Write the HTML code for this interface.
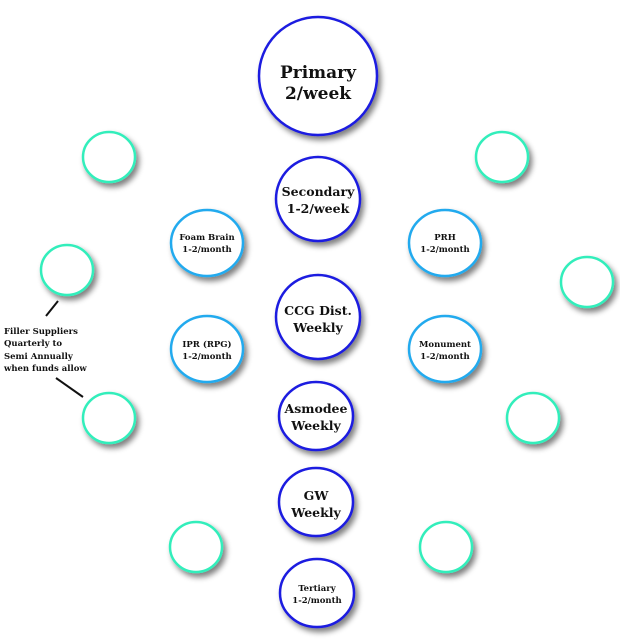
<!DOCTYPE html>
<html><head><meta charset="utf-8"><style>
html,body{margin:0;padding:0;background:#fff;}
svg{display:block;}
text{font-family:"DejaVu Serif","Liberation Serif",serif;font-weight:bold;fill:#111;text-anchor:middle;}
</style></head><body>
<svg width="620" height="640" viewBox="0 0 620 640" xmlns="http://www.w3.org/2000/svg">
<defs>
<filter id="sh" x="-30%" y="-30%" width="170%" height="170%">
<feGaussianBlur in="SourceAlpha" stdDeviation="3"/>
<feOffset dx="3" dy="4" result="b"/>
<feComponentTransfer><feFuncA type="linear" slope="0.5"/></feComponentTransfer>
<feMerge><feMergeNode/><feMergeNode in="SourceGraphic"/></feMerge>
</filter>
</defs>
<g filter="url(#sh)" fill="#fff">
<circle cx="318" cy="76" r="59" stroke="#1a1ae0" stroke-width="2.5"/>
<circle cx="318" cy="199" r="42" stroke="#1a1ae0" stroke-width="2.5"/>
<circle cx="318" cy="317" r="42" stroke="#1a1ae0" stroke-width="2.5"/>
<ellipse cx="316" cy="416" rx="37" ry="34" stroke="#1a1ae0" stroke-width="2.5"/>
<ellipse cx="316" cy="502" rx="37" ry="34" stroke="#1a1ae0" stroke-width="2.5"/>
<ellipse cx="317" cy="593" rx="37" ry="34" stroke="#1a1ae0" stroke-width="2.5"/>
<ellipse cx="207" cy="243" rx="36" ry="33" stroke="#22aaee" stroke-width="2.5"/>
<ellipse cx="445" cy="243" rx="36" ry="33" stroke="#22aaee" stroke-width="2.5"/>
<ellipse cx="207" cy="349" rx="36" ry="33" stroke="#22aaee" stroke-width="2.5"/>
<ellipse cx="445" cy="349" rx="36" ry="33" stroke="#22aaee" stroke-width="2.5"/>
<g stroke="#33eebb" stroke-width="2.5">
<ellipse cx="109" cy="157" rx="26" ry="25"/>
<ellipse cx="502" cy="157" rx="26" ry="25"/>
<ellipse cx="67" cy="270" rx="26" ry="25"/>
<ellipse cx="587" cy="282" rx="26" ry="25"/>
<ellipse cx="109" cy="418" rx="26" ry="25"/>
<ellipse cx="533" cy="418" rx="26" ry="25"/>
<ellipse cx="196" cy="547" rx="26" ry="25"/>
<ellipse cx="446" cy="547" rx="26" ry="25"/>
</g>
</g>
<g stroke="#111" stroke-width="2">
<line x1="58" y1="301" x2="46" y2="316"/>
<line x1="56" y1="378" x2="83" y2="397"/>
</g>
<text x="318" y="78" font-size="17">Primary</text>
<text x="318" y="99" font-size="17">2/week</text>
<text x="318" y="196" font-size="12.5">Secondary</text>
<text x="318" y="213" font-size="12.5">1-2/week</text>
<text x="318" y="315" font-size="12.5">CCG Dist.</text>
<text x="318" y="332" font-size="12.5">Weekly</text>
<text x="316" y="413" font-size="12.5">Asmodee</text>
<text x="316" y="430" font-size="12.5">Weekly</text>
<text x="316" y="500" font-size="12.5">GW</text>
<text x="316" y="517" font-size="12.5">Weekly</text>
<text x="317" y="591" font-size="8.5">Tertiary</text>
<text x="317" y="603" font-size="8.5">1-2/month</text>
<text x="207" y="240" font-size="8.5">Foam Brain</text>
<text x="207" y="252" font-size="8.5">1-2/month</text>
<text x="445" y="240" font-size="8.5">PRH</text>
<text x="445" y="252" font-size="8.5">1-2/month</text>
<text x="207" y="347" font-size="8.5">IPR (RPG)</text>
<text x="207" y="359" font-size="8.5">1-2/month</text>
<text x="445" y="347" font-size="8.5">Monument</text>
<text x="445" y="359" font-size="8.5">1-2/month</text>
<g font-size="8.5">
<text x="4" y="334" style="text-anchor:start">Filler Suppliers</text>
<text x="4" y="346" style="text-anchor:start">Quarterly to</text>
<text x="4" y="359" style="text-anchor:start">Semi Annually</text>
<text x="4" y="371" style="text-anchor:start">when funds allow</text>
</g>
</svg>
</body></html>
